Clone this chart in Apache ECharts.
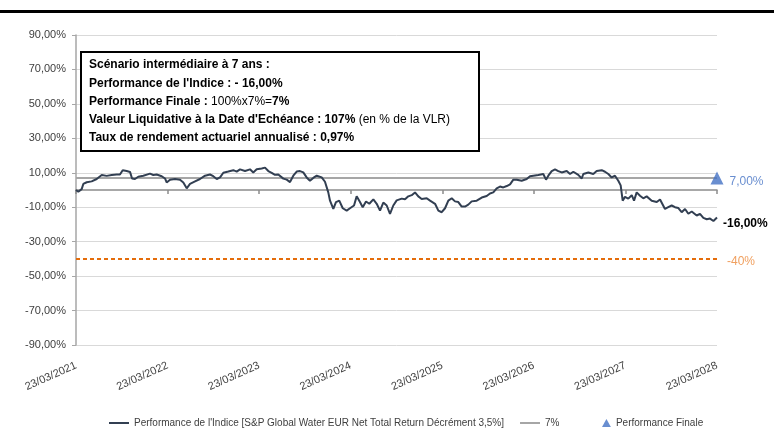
<!DOCTYPE html>
<html>
<head>
<meta charset="utf-8">
<script src="https://cdn.jsdelivr.net/npm/echarts@6/dist/echarts.min.js"></script>
<style>
html,body{margin:0;padding:0;background:#fff;}
#main{width:774px;height:430px;}
</style>
</head>
<body>
<div id="main"></div>
<script>
//scénario intermédiaire

//années écoulées depuis le 23/03/2021
var annees = [0,0.025,0.044,0.062,0.08,0.117,0.171,0.226,0.281,0.335,0.39,0.444,0.48,0.51,0.554,0.59,0.612,0.644,0.68,0.735,
	0.808,0.844,0.881,0.936,0.972,0.99,1.027,1.081,1.136,1.172,1.209,1.245,1.3,1.354,1.409,1.463,1.499,1.537,1.573,1.609,
	1.663,1.718,1.755,1.791,1.846,1.9,1.936,1.973,2.028,2.064,2.1,2.137,2.173,2.209,2.264,2.301,2.337,2.373,2.41,2.446,
	2.482,2.519,2.555,2.591,2.629,2.683,2.719,2.755,2.774,2.81,2.839,2.875,2.913,2.956,2.992,3.036,3.065,3.101,3.131,3.167,
	3.203,3.247,3.284,3.32,3.356,3.393,3.429,3.465,3.502,3.557,3.593,3.629,3.666,3.702,3.738,3.775,3.83,3.866,3.921,3.957,
	3.994,4.03,4.066,4.103,4.139,4.175,4.212,4.248,4.284,4.321,4.376,4.431,4.485,4.521,4.557,4.594,4.63,4.666,4.704,4.74,
	4.776,4.813,4.867,4.922,4.958,4.994,5.049,5.103,5.133,5.158,5.195,5.231,5.267,5.304,5.359,5.395,5.431,5.485,5.523,5.54,
	5.595,5.649,5.686,5.741,5.777,5.813,5.85,5.886,5.922,5.948,5.97,5.995,6.031,6.069,6.094,6.123,6.159,6.195,6.232,6.287,
	6.342,6.378,6.432,6.468,6.505,6.541,6.578,6.614,6.651,6.687,6.724,6.778,6.814,6.851,6.888,6.924,6.961,6.979,7];

//performance de l'indice en %
var perfIndice = [0,-1,-2,0.5,3.5,4.5,5,6.4,8.7,8.2,8.7,9,9,11.5,11,10.5,6.7,6.4,7.7,8.3,
	9.5,8.7,9,8,6.7,4.4,6,6.4,6,4.4,1,3.5,5,6.4,8.3,9,8,6.4,7.3,10,
	10.7,11.5,10.7,12,11,12,10.2,12,12.5,13,11,10,8.8,9,6.6,6,4.6,8.3,10.7,11,
	10.2,7.3,5.4,7,8.3,7.3,4.8,-1.4,-6.2,-11,-7,-6.2,-10.6,-12,-10.6,-9,-3.7,-7,-10,-6.7,
	-8,-5.4,-8,-12,-7.3,-9,-13.9,-9,-6,-5,-5.4,-3.7,-3,-1.4,-3.7,-5.2,-4.8,-6.2,-8,-12,
	-12.9,-10.6,-6.2,-4.8,-6.6,-7,-9.6,-9.6,-8.5,-6.6,-6.2,-4.4,-3.5,-2,-1.4,1,2,1.5,2.3,3.3,
	6,6,5.4,6.4,8,8.3,8.7,9.3,6,8.3,11,12,11,10.2,11,9.3,10.6,8.8,6.7,9.3,
	10.2,9.3,11,11.5,10.6,9.3,7.3,8.3,5.4,2.7,-6.2,-4,-5,-3,-6.2,-1.4,-3.3,-4.8,-3.7,-6.2,
	-7,-5.5,-11,-10,-9,-10,-10.5,-12.9,-11,-13.8,-12.5,-14.8,-13.8,-16.2,-17,-16.6,-18,-17,-16];

var datesLabels = ['23/03/2021','23/03/2022','23/03/2023','23/03/2024','23/03/2025','23/03/2026','23/03/2027','23/03/2028'];
var coupon = 7;        //ligne 7%
var barriere = -40;    //seuil -40%
var perfFinale = 7;    //performance finale
var perfFinaleIndice = -16;

var police = "'Liberation Sans',Arial,sans-serif";

function pct(v){
	return v.toFixed(2).replace('.', ',') + '%';
}

var serieIndice = [];
for (var i = 0; i < annees.length; i++) {
	serieIndice.push([annees[i], perfIndice[i]]);
}
var fin = datesLabels.length - 1;

var myChart = echarts.init(document.getElementById('main'));

var legendeTexte = {fontSize: 10, color: '#404040', fontFamily: police};

var option = {
	backgroundColor: '#fff',
	animation: false,
	textStyle: {fontFamily: police},
	grid: {left: 76, right: 57, top: 35, bottom: 85},
	legend: [{
		top: 413,
		left: 103,
		itemWidth: 20,
		itemHeight: 8,
		itemGap: 15,
		textStyle: legendeTexte,
		data: [
			{name: "Performance de l'Indice [S&P Global Water EUR Net Total Return Décrément 3,5%]", itemStyle: {opacity: 0}},
			{name: '7%', itemStyle: {opacity: 0}}
		]
	}, {
		//triangle de la performance finale
		top: 413,
		left: 597,
		itemWidth: 9,
		itemHeight: 8,
		symbolKeepAspect: true,
		textStyle: legendeTexte,
		data: [{name: 'Performance Finale', icon: 'path://M5,0L10,9L0,9Z'}]
	}],
	xAxis: [{
		type: 'value',
		min: 0,
		max: fin,
		interval: 1,
		axisLine: {show: false, onZero: false},
		axisTick: {show: false},
		splitLine: {show: false},
		axisLabel: {
			rotate: 24,
			margin: 20,
			fontSize: 11,
			color: '#404040',
			formatter: function(v){ return datesLabels[v]; }
		}
	}, {
		//axe horizontal sur le zéro
		type: 'value',
		position: 'bottom',
		min: 0,
		max: fin,
		interval: 1,
		axisLine: {show: true, onZero: true, lineStyle: {color: '#8c8c8c', width: 1.5}},
		axisTick: {show: true, length: 4, lineStyle: {color: '#8c8c8c', width: 1.5}},
		axisLabel: {show: false},
		splitLine: {show: false}
	}],
	yAxis: {
		type: 'value',
		min: -90,
		max: 90,
		interval: 20,
		axisLine: {show: true, lineStyle: {color: '#a6a6a6', width: 1.5}},
		axisTick: {show: true, length: 4, lineStyle: {color: '#a6a6a6'}},
		splitLine: {lineStyle: {color: '#d9d9d9', width: 1}},
		axisLabel: {
			fontSize: 11,
			color: '#404040',
			margin: 10,
			formatter: pct
		}
	},
	series: [{
		name: "Performance de l'Indice [S&P Global Water EUR Net Total Return Décrément 3,5%]",
		type: 'line',
		symbol: 'none',
		data: serieIndice,
		z: 4,
		lineStyle: {color: '#323f52', width: 2},
		itemStyle: {color: '#323f52'},
		endLabel: {
			show: true,
			formatter: function(){ return pct(perfFinaleIndice); },
			color: '#000',
			fontSize: 12,
			fontWeight: 'bold',
			distance: 6,
			offset: [0, 6],
			fontFamily: police
		}
	}, {
		name: '7%',
		type: 'line',
		symbol: 'none',
		data: [[0, coupon], [fin, coupon]],
		z: 3,
		lineStyle: {color: '#a6a6a6', width: 2},
		itemStyle: {color: '#a6a6a6'}
	}, {
		name: 'Performance Finale',
		type: 'scatter',
		symbol: 'triangle',
		symbolSize: 13,
		data: [[fin, perfFinale]],
		z: 5,
		itemStyle: {color: '#4472c4'},
		label: {
			show: true,
			position: 'right',
			distance: 6,
			offset: [0, 4],
			color: '#4472c4',
			fontSize: 12,
			fontFamily: police,
			formatter: function(){ return pct(perfFinale); }
		}
	}, {
		name: 'barriere',
		type: 'line',
		symbol: 'none',
		data: [[0, barriere], [fin, barriere]],
		z: 3,
		lineStyle: {color: '#e46c0a', width: 2, type: [4, 3]},
		endLabel: {
			show: true,
			formatter: barriere + '%',
			color: '#f0a060',
			fontSize: 12,
			distance: 10,
			offset: [0, 3],
			fontFamily: police
		}
	}],
	graphic: [{
		type: 'rect',
		shape: {x: 0, y: 10, width: 774, height: 3},
		style: {fill: '#000'}
	}, {
		type: 'rect',
		z: 10,
		shape: {x: 81, y: 52, width: 398, height: 99},
		style: {fill: '#fff', stroke: '#000', lineWidth: 2}
	}, {
		type: 'text',
		z: 11,
		left: 89,
		top: 56,
		style: {
			text: '{b|Scénario intermédiaire à 7 ans :}\n' +
				"{b|Performance de l'Indice : - 16,00%}\n" +
				'{b|Performance Finale : }{n|100%x7%=}{b|7%}\n' +
				"{b|Valeur Liquidative à la Date d'Echéance : 107%}{n| (en % de la VLR)}\n" +
				'{b|Taux de rendement actuariel annualisé : 0,97%}',
			fill: '#000',
			font: '12px ' + police,
			lineHeight: 18.2,
			rich: {
				b: {fontWeight: 'bold', fontSize: 12, lineHeight: 18.2, fontFamily: police},
				n: {fontWeight: 'normal', fontSize: 12, lineHeight: 18.2, fontFamily: police}
			}
		}
	}]
};

myChart.setOption(option);
</script>
</body>
</html>
